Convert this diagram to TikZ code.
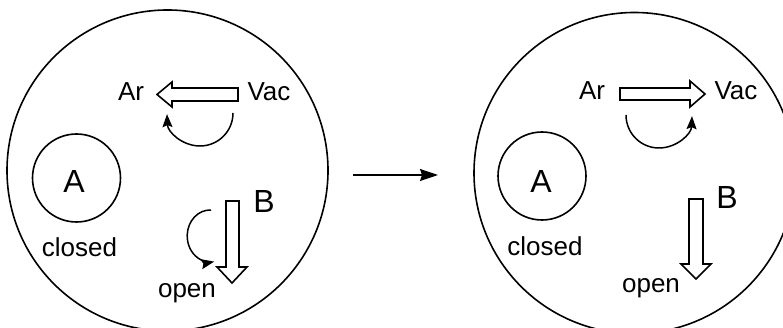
\documentclass[tikz,border=0pt]{standalone}
\usepackage{fontspec}
\setmainfont{Liberation Sans}
\usetikzlibrary{arrows.meta}
\begin{document}
\begin{tikzpicture}[x=1pt,y=-1pt,
  line width=1.6pt,
  lbl/.style={inner sep=0pt,anchor=base,font=\fontsize{26}{30}\selectfont},
  big/.style={inner sep=0pt,anchor=base,font=\fontsize{32}{36}\selectfont},
  chamber/.style={draw,circle,minimum size=321pt,inner sep=0pt},
  valve/.style={draw,circle,minimum size=88pt,inner sep=0pt},
  hollow/.style={draw,fill=white,line join=miter},
  turn/.style={-{Stealth[length=13pt,width=10pt,inset=2pt]},line width=1.5pt},
  go/.style={-{Stealth[length=18pt,width=12pt,inset=2pt]},line width=1.5pt}]
\useasboundingbox (0,0) rectangle (783,328);
\clip (0,0) rectangle (783,328);

% ---------- before ----------
\node[chamber] (ch1) at (167.5,170.5) {};
\node[valve] (va1) at (76.5,178) {};
\node[big] (A1) at (74,193) {A};
\node[lbl] (cl1) at (79.5,257) {closed};
\node[lbl] (ar1) at (131,101) {Ar};
\node[lbl] (vac1) at (269,101) {Vac};
\node[big] (B1) at (264,213) {B};
\node[lbl] (op1) at (187,297) {open};
% Vac -> Ar flow
\draw[hollow] (238,88) -- (172,88) -- (172,82) -- (157,94.5) -- (172,107) -- (172,101) -- (238,101) -- cycle;
\coordinate (r1s) at (233,113);
\draw[turn] (r1s) arc[start angle=0,end angle=178,radius=33];
% valve B opening
\draw[hollow] (226,201) -- (239,201) -- (239,267) -- (247,267) -- (232,283) -- (217,267) -- (226,267) -- cycle;
\coordinate (r2s) at (211,210);
\draw[turn] (r2s) arc[start angle=272,end angle=80,x radius=23,y radius=26];

% ---------- transition ----------
\coordinate (t1) at (353,175);
\coordinate (t2) at (438,175);
\draw[go] (t1) -- (t2);

% ---------- after ----------
\node[chamber] (ch2) at (634.5,173) {};
\node[valve] (va2) at (542,176) {};
\node[big] (A2) at (541,193) {A};
\node[lbl] (cl2) at (545,256) {closed};
\node[lbl] (ar2) at (592,100) {Ar};
\node[lbl] (vac2) at (736,100) {Vac};
\node[big] (B2) at (727,209) {B};
\node[lbl] (op2) at (651,292) {open};
% Ar -> Vac flow
\draw[hollow] (620,88) -- (690,88) -- (690,81) -- (705,94) -- (690,107) -- (690,100) -- (620,100) -- cycle;
\coordinate (r3s) at (626,115);
\draw[turn] (r3s) arc[start angle=180,end angle=2,radius=33];
% valve B open
\draw[hollow] (689,199) -- (703,199) -- (703,264) -- (711,264) -- (696,279) -- (681,264) -- (689,264) -- cycle;
\end{tikzpicture}
\end{document}
